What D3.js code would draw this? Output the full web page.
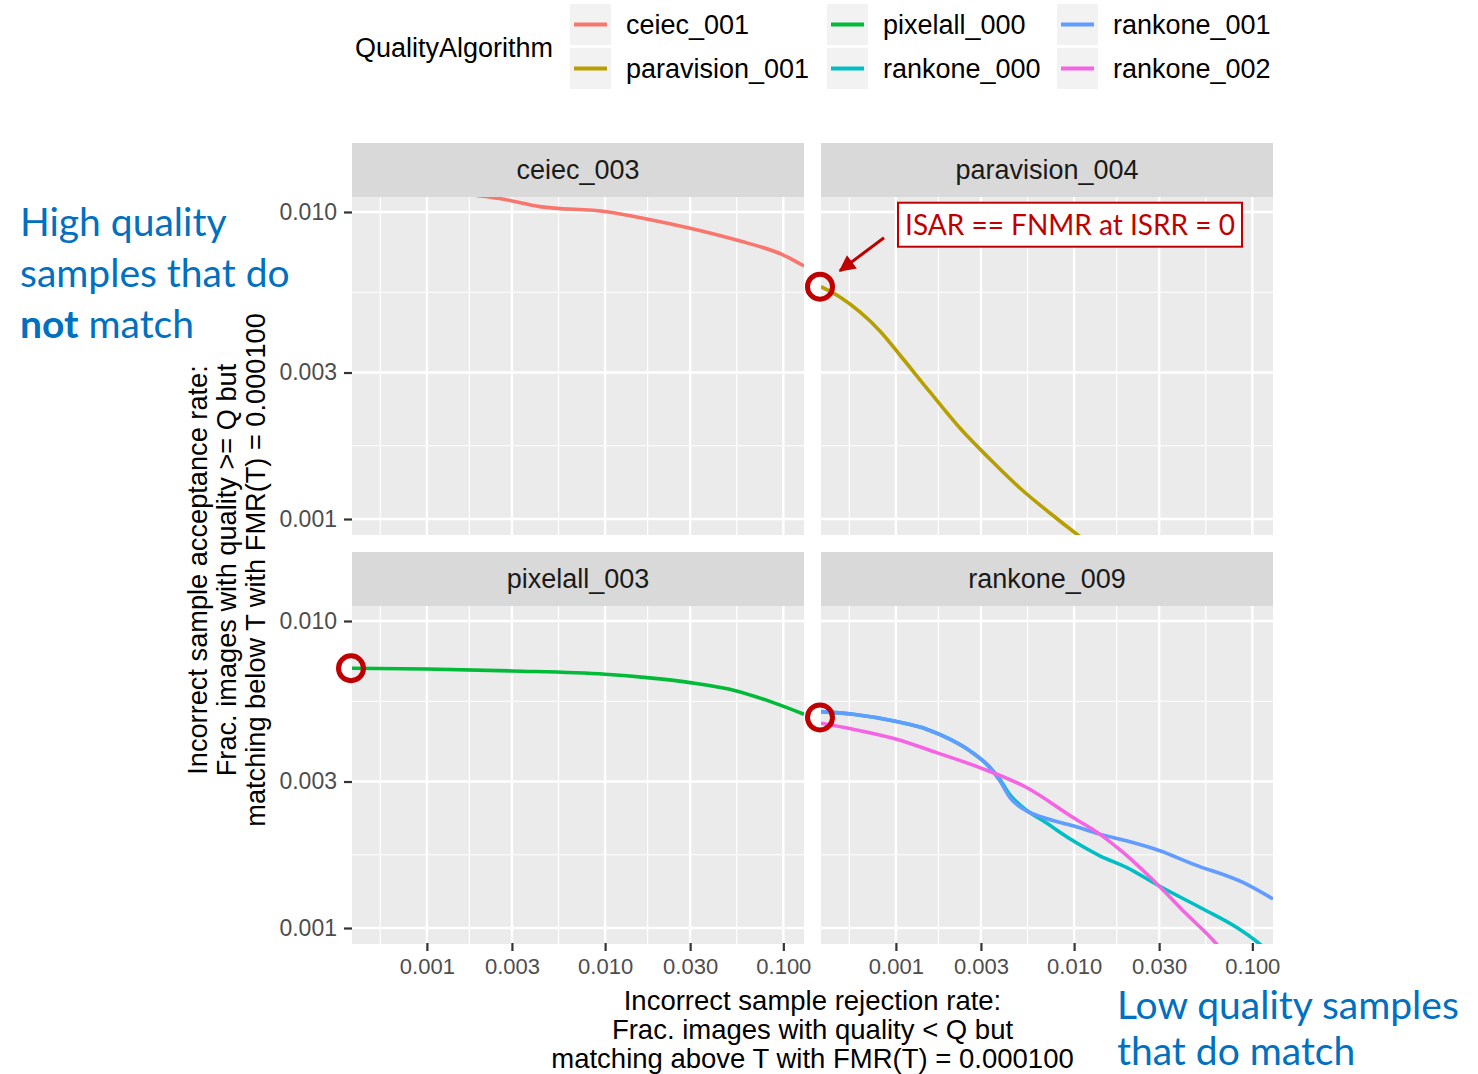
<!DOCTYPE html>
<html>
<head>
<meta charset="utf-8">
<script src="https://cdn.jsdelivr.net/npm/d3@7"></script>
<style>
  body { margin: 0; background: #fff; }
  text { font-family: "Liberation Sans", Arial, Helvetica, sans-serif; }
  .note { font-family: Lato, "Open Sans", sans-serif; }
</style>
</head>
<body>
<svg id="chart" width="1478" height="1074"></svg>
<script>
// ---- data ----
const algorithms = ["ceiec_001", "paravision_001", "pixelall_000", "rankone_000", "rankone_001", "rankone_002"];
const algoColors = ["#F8766D", "#B79F00", "#00BA38", "#00BFC4", "#619CFF", "#F564E3"];
const panelNames = ["ceiec_003", "paravision_004", "pixelall_003", "rankone_009"];

const xBreaks = [0.0003, 0.001, 0.003, 0.01, 0.03, 0.1, 0.3];
const yBreaks = [0.0003, 0.001, 0.003, 0.01, 0.03];

const ceiecX = [0.00038, 0.001824, 0.00269, 0.00431, 0.01022, 0.01714, 0.03, 0.0546, 0.1, 0.1306];
const ceiecY = [0.01291, 0.01136, 0.0110, 0.01041, 0.01002, 0.00949, 0.00885, 0.00810, 0.00724, 0.00667];

const paravisionX = [0.00038, 0.000485, 0.000628, 0.000813, 0.001053, 0.001551, 0.002285, 0.003366, 0.004959, 0.00731, 0.01049, 0.01225];
const paravisionY = [0.00571, 0.005284, 0.004724, 0.004097, 0.003421, 0.002593, 0.001978, 0.001568, 0.001262, 0.001046, 0.000887, 0.000829];

const pixelallX = [0.00038, 0.001, 0.003, 0.01, 0.01714, 0.03, 0.0546, 0.08788, 0.1306];
const pixelallY = [0.007016, 0.006979, 0.006875, 0.006707, 0.006538, 0.006298, 0.00592, 0.005422, 0.004969];

const rankone000X = [0.00038, 0.000576, 0.001009, 0.001487, 0.002009, 0.0026, 0.003366, 0.003831, 0.004358, 0.005408, 0.006699, 0.009871, 0.01393, 0.01967, 0.02985, 0.0529, 0.0814, 0.11, 0.12];
const rankone000Y = [0.005067, 0.004969, 0.004703, 0.004442, 0.004121, 0.003776, 0.00334, 0.00305, 0.00272, 0.00242, 0.002234, 0.001923, 0.001719, 0.001575, 0.001373, 0.001153, 0.001005, 0.000887, 0.00085];

const rankone001X = [0.00038, 0.000576, 0.001009, 0.001487, 0.002009, 0.0026, 0.003366, 0.003831, 0.004358, 0.005408, 0.006699, 0.009871, 0.01393, 0.01967, 0.03024, 0.04649, 0.08868, 0.1306];
const rankone001Y = [0.005067, 0.004969, 0.004703, 0.004442, 0.004121, 0.003776, 0.003331, 0.003015, 0.002661, 0.002408, 0.002291, 0.002152, 0.002022, 0.001923, 0.001785, 0.001615, 0.001407, 0.001243];

const rankone002X = [0.00038, 0.000576, 0.001009, 0.001691, 0.002958, 0.005408, 0.009871, 0.01393, 0.01883, 0.02985, 0.0427, 0.06288, 0.07];
const rankone002Y = [0.004647, 0.004442, 0.004121, 0.003727, 0.003331, 0.002868, 0.002291, 0.002022, 0.001762, 0.001373, 0.00111, 0.000887, 0.00082];

// series -> panel index
const series = [
  { algo: 0, panel: 0, xs: ceiecX, ys: ceiecY },
  { algo: 1, panel: 1, xs: paravisionX, ys: paravisionY },
  { algo: 2, panel: 2, xs: pixelallX, ys: pixelallY },
  { algo: 3, panel: 3, xs: rankone000X, ys: rankone000Y },
  { algo: 4, panel: 3, xs: rankone001X, ys: rankone001Y },
  { algo: 5, panel: 3, xs: rankone002X, ys: rankone002Y }
];

// ---- layout ----
const svg = d3.select("#chart");
const panelW = 452, panelH = 338, stripH = 54;
const colX = [352, 821];
const rowY = [197, 606];   // top of data area

const x = d3.scaleLog().domain([0.00038, 0.1306]).range([0, panelW]);
const y = d3.scaleLog().domain([0.000887, 0.01119]).range([panelH, 0]);

const inX = v => v >= x.domain()[0] && v <= x.domain()[1];
const inY = v => v >= y.domain()[0] && v <= y.domain()[1];
const xTicks = xBreaks.filter(inX);
const yTicks = yBreaks.filter(inY);
const mids = b => d3.pairs(b).map(([a, c]) => Math.sqrt(a * c));
const xMinor = mids(xBreaks).filter(inX);
const yMinor = mids(yBreaks).filter(inY);

const line = d3.line()
  .x(d => x(d[0]))
  .y(d => y(d[1]))
  .curve(d3.curveMonotoneX);

const defs = svg.append("defs");

panelNames.forEach((name, i) => {
  const px = colX[i % 2], py = rowY[Math.floor(i / 2)];
  const g = svg.append("g").attr("transform", `translate(${px},${py})`);

  // strip
  g.append("rect")
    .attr("x", 0).attr("y", -stripH)
    .attr("width", panelW).attr("height", stripH)
    .attr("fill", "#D9D9D9");
  g.append("text")
    .attr("x", panelW / 2).attr("y", -stripH / 2)
    .attr("dy", "0.35em")
    .attr("text-anchor", "middle")
    .attr("font-size", 27)
    .attr("fill", "#1A1A1A")
    .text(name);

  // panel background + grid
  g.append("rect").attr("width", panelW).attr("height", panelH).attr("fill", "#EBEBEB");
  g.selectAll(".xminor").data(xMinor).enter().append("line")
    .attr("x1", d => x(d)).attr("x2", d => x(d)).attr("y1", 0).attr("y2", panelH)
    .attr("stroke", "#fff").attr("stroke-width", 1.2);
  g.selectAll(".yminor").data(yMinor).enter().append("line")
    .attr("y1", d => y(d)).attr("y2", d => y(d)).attr("x1", 0).attr("x2", panelW)
    .attr("stroke", "#fff").attr("stroke-width", 1.2);
  g.selectAll(".xmajor").data(xTicks).enter().append("line")
    .attr("x1", d => x(d)).attr("x2", d => x(d)).attr("y1", 0).attr("y2", panelH)
    .attr("stroke", "#fff").attr("stroke-width", 2.4);
  g.selectAll(".ymajor").data(yTicks).enter().append("line")
    .attr("y1", d => y(d)).attr("y2", d => y(d)).attr("x1", 0).attr("x2", panelW)
    .attr("stroke", "#fff").attr("stroke-width", 2.4);

  // clip + series
  defs.append("clipPath").attr("id", "clip" + i)
    .append("rect").attr("width", panelW).attr("height", panelH);
  const lg = g.append("g").attr("clip-path", `url(#clip${i})`);
  series.filter(s => s.panel === i).forEach(s => {
    lg.append("path")
      .datum(s.xs.map((v, k) => [v, s.ys[k]]))
      .attr("d", line)
      .attr("fill", "none")
      .attr("stroke", algoColors[s.algo])
      .attr("stroke-width", 3.6)
      .attr("stroke-linejoin", "round");
  });

  // axes
  if (i % 2 === 0) {
    const ax = g.append("g").call(d3.axisLeft(y).tickValues(yTicks)
      .tickFormat(d3.format(".3f")).tickSize(8).tickPadding(7));
    styleAxis(ax, 23);
  }
  if (i >= 2) {
    const ax = g.append("g").attr("transform", `translate(0,${panelH - 1})`)
      .call(d3.axisBottom(x).tickValues(xTicks)
      .tickFormat(d3.format(".3f")).tickSize(8).tickPadding(7));
    styleAxis(ax, 22);
  }
});

function styleAxis(ax, size) {
  ax.select(".domain").remove();
  ax.selectAll(".tick line").attr("stroke", "#333333").attr("stroke-width", 2.2);
  ax.selectAll(".tick text")
    .attr("fill", "#4D4D4D")
    .attr("font-size", size)
    .style("font-family", "'Liberation Sans', Arial, sans-serif");
}

// ---- axis titles ----
const xTitle = ["Incorrect sample rejection rate:", "Frac. images with quality < Q but", "matching above T with FMR(T) = 0.000100"];
svg.append("g").selectAll("text").data(xTitle).enter().append("text")
  .attr("x", 812.5).attr("y", (d, i) => 1000 + i * 29)
  .attr("dy", "0.35em").attr("text-anchor", "middle")
  .attr("font-size", 27.5).attr("fill", "#000")
  .text(d => d);

const yTitle = ["Incorrect sample acceptance rate:", "Frac. images with quality >= Q but", "matching below T with FMR(T) = 0.000100"];
svg.append("g").attr("transform", "translate(226,570) rotate(-90)")
  .selectAll("text").data(yTitle).enter().append("text")
  .attr("x", 0).attr("y", (d, i) => (i - 1) * 29)
  .attr("dy", "0.35em").attr("text-anchor", "middle")
  .attr("font-size", 27.2).attr("fill", "#000")
  .text(d => d);

// ---- legend ----
const legend = svg.append("g");
legend.append("text")
  .attr("x", 355).attr("y", 48).attr("dy", "0.35em")
  .attr("font-size", 27).attr("fill", "#000")
  .text("QualityAlgorithm");
const legCols = [570, 827, 1057];
algorithms.forEach((a, i) => {
  const lx = legCols[Math.floor(i / 2)], ly = 4 + (i % 2) * 44;
  legend.append("rect").attr("x", lx).attr("y", ly).attr("width", 41).attr("height", 41).attr("fill", "#F2F2F2");
  legend.append("line")
    .attr("x1", lx + 4).attr("x2", lx + 37).attr("y1", ly + 20.5).attr("y2", ly + 20.5)
    .attr("stroke", algoColors[i]).attr("stroke-width", 4);
  legend.append("text")
    .attr("x", lx + 56).attr("y", ly + 20.5).attr("dy", "0.35em")
    .attr("font-size", 27).attr("fill", "#000")
    .text(a);
});

// ---- annotations ----
const red = "#C00000";
const px = (s, k) => colX[series[s].panel % 2] + x(series[s].xs[k]);
const py = (s, k) => rowY[Math.floor(series[s].panel / 2)] + y(series[s].ys[k]);
const circles = [
  [px(1, 0), py(1, 0)],
  [px(2, 0), py(2, 0)],
  [px(4, 0), rowY[1] + y(Math.sqrt(rankone001Y[0] * rankone002Y[0]))]
];
svg.append("g").selectAll("circle").data(circles).enter().append("circle")
  .attr("cx", d => d[0] - 1).attr("cy", d => d[1])
  .attr("r", 12.5).attr("fill", "none")
  .attr("stroke", red).attr("stroke-width", 5);

defs.append("marker").attr("id", "arrow")
  .attr("viewBox", "0 0 10 10").attr("refX", 9).attr("refY", 5)
  .attr("markerWidth", 6).attr("markerHeight", 5.5).attr("orient", "auto")
  .attr("markerUnits", "strokeWidth")
  .append("path").attr("d", "M0,0 L10,5 L0,10 z").attr("fill", red);

const [c0x, c0y] = circles[0];
svg.append("line")
  .attr("x1", c0x + 63).attr("y1", c0y - 49)
  .attr("x2", c0x + 19).attr("y2", c0y - 16)
  .attr("stroke", red).attr("stroke-width", 3)
  .attr("marker-end", "url(#arrow)");

svg.append("rect")
  .attr("x", c0x + 77).attr("y", c0y - 84)
  .attr("width", 344).attr("height", 44)
  .attr("fill", "#fff").attr("stroke", red).attr("stroke-width", 2);
svg.append("text").attr("class", "note")
  .attr("x", c0x + 249).attr("y", c0y - 52)
  .attr("text-anchor", "middle")
  .attr("font-size", 28).attr("fill", red)
  .text("ISAR == FNMR at ISRR = 0");

// ---- side notes ----
const blue = "#0070C0";
const leftNote = svg.append("text").attr("class", "note")
  .attr("font-size", 39).attr("fill", blue);
leftNote.append("tspan").attr("x", 20).attr("y", 236).text("High quality");
leftNote.append("tspan").attr("x", 20).attr("y", 287).text("samples that do");
leftNote.append("tspan").attr("x", 20).attr("y", 338).attr("font-weight", "bold").text("not");
leftNote.append("tspan").text(" match");

const rightNote = svg.append("text").attr("class", "note")
  .attr("font-size", 39).attr("fill", blue);
rightNote.append("tspan").attr("x", 1117).attr("y", 1019).text("Low quality samples");
rightNote.append("tspan").attr("x", 1117).attr("y", 1065).text("that do match");
</script>
</body>
</html>
